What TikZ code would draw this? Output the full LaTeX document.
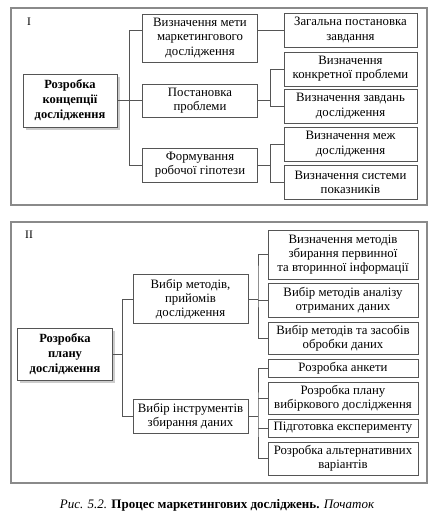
\documentclass[tikz,border=0pt]{standalone}
\usepackage{fontspec}
\setmainfont{Liberation Serif}
\usetikzlibrary{shadows,calc}
\definecolor{framegray}{HTML}{8A8A8A}
\definecolor{boxgray}{HTML}{555555}

\begin{document}
\begin{tikzpicture}[x=1pt, y=-1pt,
    panel/.style={draw=framegray, line width=1.4pt},
    mainbox/.style={draw=boxgray, line width=0.9pt, fill=white, align=center, inner sep=0pt,
        font=\fontsize{12.5}{15}\selectfont\bfseries,
        drop shadow={shadow xshift=2.5pt, shadow yshift=-2.5pt, fill=black!40}},
    midbox/.style={draw=boxgray, line width=0.8pt, align=center, inner sep=0pt,
        minimum width=115pt, font=\fontsize{12.8}{14.2}\selectfont},
    leafbox/.style={draw=boxgray, line width=0.8pt, align=center, inner sep=0pt,
        font=\fontsize{12.8}{14.2}\selectfont},
    link/.style={draw=boxgray, line width=0.8pt}]
    \useasboundingbox (0,0) rectangle (434,514);

    % Frames
    \draw[panel] (11,8) rectangle (427,205);
    \draw[panel] (11,222) rectangle (427,483);
    \node[font=\fontsize{11.5}{13}\selectfont] (labI) at (29,22) {I};
    \node[font=\fontsize{11.5}{13}\selectfont] (labII) at (29,235) {II};

    % Part I
    \node[mainbox, minimum width=94pt, minimum height=53pt] (concept) at (70,100.5) {Розробка\\концепції\\дослідження};
    \node[midbox, minimum height=48pt] (goal) at (200,38) {Визначення мети\\маркетингового\\дослідження};
    \node[midbox, minimum height=33pt] (problem) at (200,100.5) {Постановка\\проблеми};
    \node[midbox, minimum height=34pt] (hypothesis) at (200,165) {Формування\\робочої гіпотези};
    \node[leafbox, minimum width=133pt, minimum height=34pt] (task) at (350.5,30) {Загальна постановка\\завдання};
    \node[leafbox, minimum width=133pt, minimum height=34pt] (concrete) at (350.5,69) {Визначення\\конкретної проблеми};
    \node[leafbox, minimum width=133pt, minimum height=34pt] (aims) at (350.5,106) {Визначення завдань\\дослідження};
    \node[leafbox, minimum width=133pt, minimum height=34pt] (limits) at (350.5,144) {Визначення меж\\дослідження};
    \node[leafbox, minimum width=133pt, minimum height=34pt] (indicators) at (350.5,182) {Визначення системи\\показників};

    \coordinate (trunkI) at ($(concept.east)!0.5!(problem.west)$);
    \coordinate (branchI) at ($(problem.east)!0.5!(concrete.west)$);
    \draw[link] (concept.east) -- (problem.west);
    \draw[link] (goal.west |- task.west) -| (trunkI) |- (hypothesis.west);
    \draw[link] (goal.east |- task.west) -- (task.west);
    \draw[link] (problem.east) -- (branchI |- problem.east);
    \draw[link] (concrete.west) -| (branchI) |- (aims.west);
    \draw[link] (hypothesis.east) -- (branchI |- hypothesis.east);
    \draw[link] (limits.west) -| (branchI |- hypothesis.east) |- (indicators.west);

    % Part II
    \node[mainbox, minimum width=95pt, minimum height=52pt] (plan) at (65,354) {Розробка\\плану\\дослідження};
    \node[midbox, minimum height=49pt] (methods) at (190.5,299) {Вибір методів,\\прийомів\\дослідження};
    \node[midbox, minimum height=34pt] (tools) at (190.5,416) {Вибір інструментів\\збирання даних};
    \node[leafbox, minimum width=150pt, minimum height=49pt] (collect) at (343,254.5) {Визначення методів\\збирання первинної\\та вторинної інформації};
    \node[leafbox, minimum width=150pt, minimum height=34pt] (analysis) at (343,300) {Вибір методів аналізу\\отриманих даних};
    \node[leafbox, minimum width=150pt, minimum height=32pt] (processing) at (343,338) {Вибір методів та засобів\\обробки даних};
    \node[leafbox, minimum width=150pt, minimum height=18pt] (survey) at (343,368) {Розробка анкети};
    \node[leafbox, minimum width=150pt, minimum height=32pt] (sample) at (343,398) {Розробка плану\\вибіркового дослідження};
    \node[leafbox, minimum width=150pt, minimum height=18pt] (experiment) at (343,428) {Підготовка експерименту};
    \node[leafbox, minimum width=150pt, minimum height=33pt] (variants) at (343,458.5) {Розробка альтернативних\\варіантів};

    \coordinate (trunkII) at ($(plan.east)!0.5!(methods.west)$);
    \coordinate (branchII) at ($(methods.east)!0.5!(collect.west)$);
    \draw[link] (plan.east) -- (trunkII |- plan.east);
    \draw[link] (methods.west) -| (trunkII) |- (tools.west);
    \draw[link] (methods.east) -- (branchII |- methods.east);
    \draw[link] (collect.west) -| (branchII) |- (processing.west);
    \draw[link] (branchII |- analysis.west) -- (analysis.west);
    \draw[link] (tools.east) -- (branchII |- tools.east);
    \draw[link] (survey.west) -| (branchII |- tools.east) |- (variants.west);
    \draw[link] (branchII |- sample.west) -- (sample.west);
    \draw[link] (branchII |- experiment.west) -- (experiment.west);

    % Caption
    \node[font=\fontsize{13}{15}\selectfont] (caption) at (217,505) {\textit{Рис. 5.2.} \textbf{Процес маркетингових досліджень.} \textit{Початок}};
\end{tikzpicture}
\end{document}
